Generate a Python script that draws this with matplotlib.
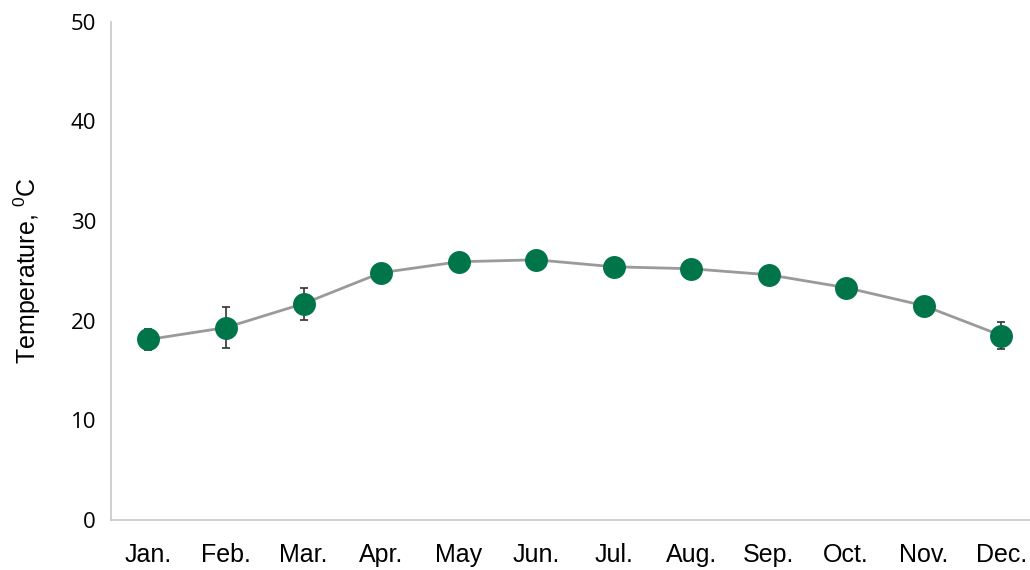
import matplotlib
matplotlib.use("Agg")
import matplotlib.pyplot as plt
import numpy as np

months = ['Jan.', 'Feb.', 'Mar.', 'Apr.', 'May', 'Jun.', 'Jul.', 'Aug.', 'Sep.', 'Oct.', 'Nov.', 'Dec.']
temp = [18.1, 19.3, 21.7, 24.8, 25.9, 26.1, 25.4, 25.2, 24.6, 23.3, 21.5, 18.5]
err = [1.1, 2.1, 1.6, 0.6, 0.5, 0.5, 0.5, 0.5, 0.5, 0.5, 0.6, 1.4]

plt.rcParams['font.family'] = ['Liberation Sans', 'DejaVu Sans']
plt.rcParams['mathtext.default'] = 'regular'

fig = plt.figure(figsize=(10.3, 5.7), dpi=100)
ax = fig.add_axes([0.108, 0.088, 0.892, 0.874])

x = np.arange(len(months))
ax.plot(x, temp, color='#9a9a9a', linewidth=2, zorder=2)
ax.errorbar(x, temp, yerr=err, fmt='none', ecolor='#333333', elinewidth=1.2,
            capsize=3, capthick=1.2, zorder=3)
ax.plot(x, temp, 'o', color='#00754a', markersize=15.5, zorder=4)

ax.set_xlim(-0.48, 11.37)
ax.set_ylim(0, 50)
ax.set_yticks([0, 10, 20, 30, 40, 50])
ax.set_xticks(x)
ax.set_xticklabels(months)
ax.tick_params(axis='x', length=0, labelsize=18, pad=17)
ax.tick_params(axis='y', length=0, labelsize=16, pad=11)
for lbl in ax.get_yticklabels():
    lbl.set_family(['Open Sans', 'DejaVu Sans'])
ax.set_ylabel('Temperature, $^{0}$C', fontsize=18, labelpad=20)

ax.spines['top'].set_visible(False)
ax.spines['right'].set_visible(False)
ax.spines['left'].set_color('#c8c8c8')
ax.spines['bottom'].set_color('#c8c8c8')
ax.spines['left'].set_linewidth(1.2)
ax.spines['bottom'].set_linewidth(1.2)

fig.savefig('out.png', dpi=100)
